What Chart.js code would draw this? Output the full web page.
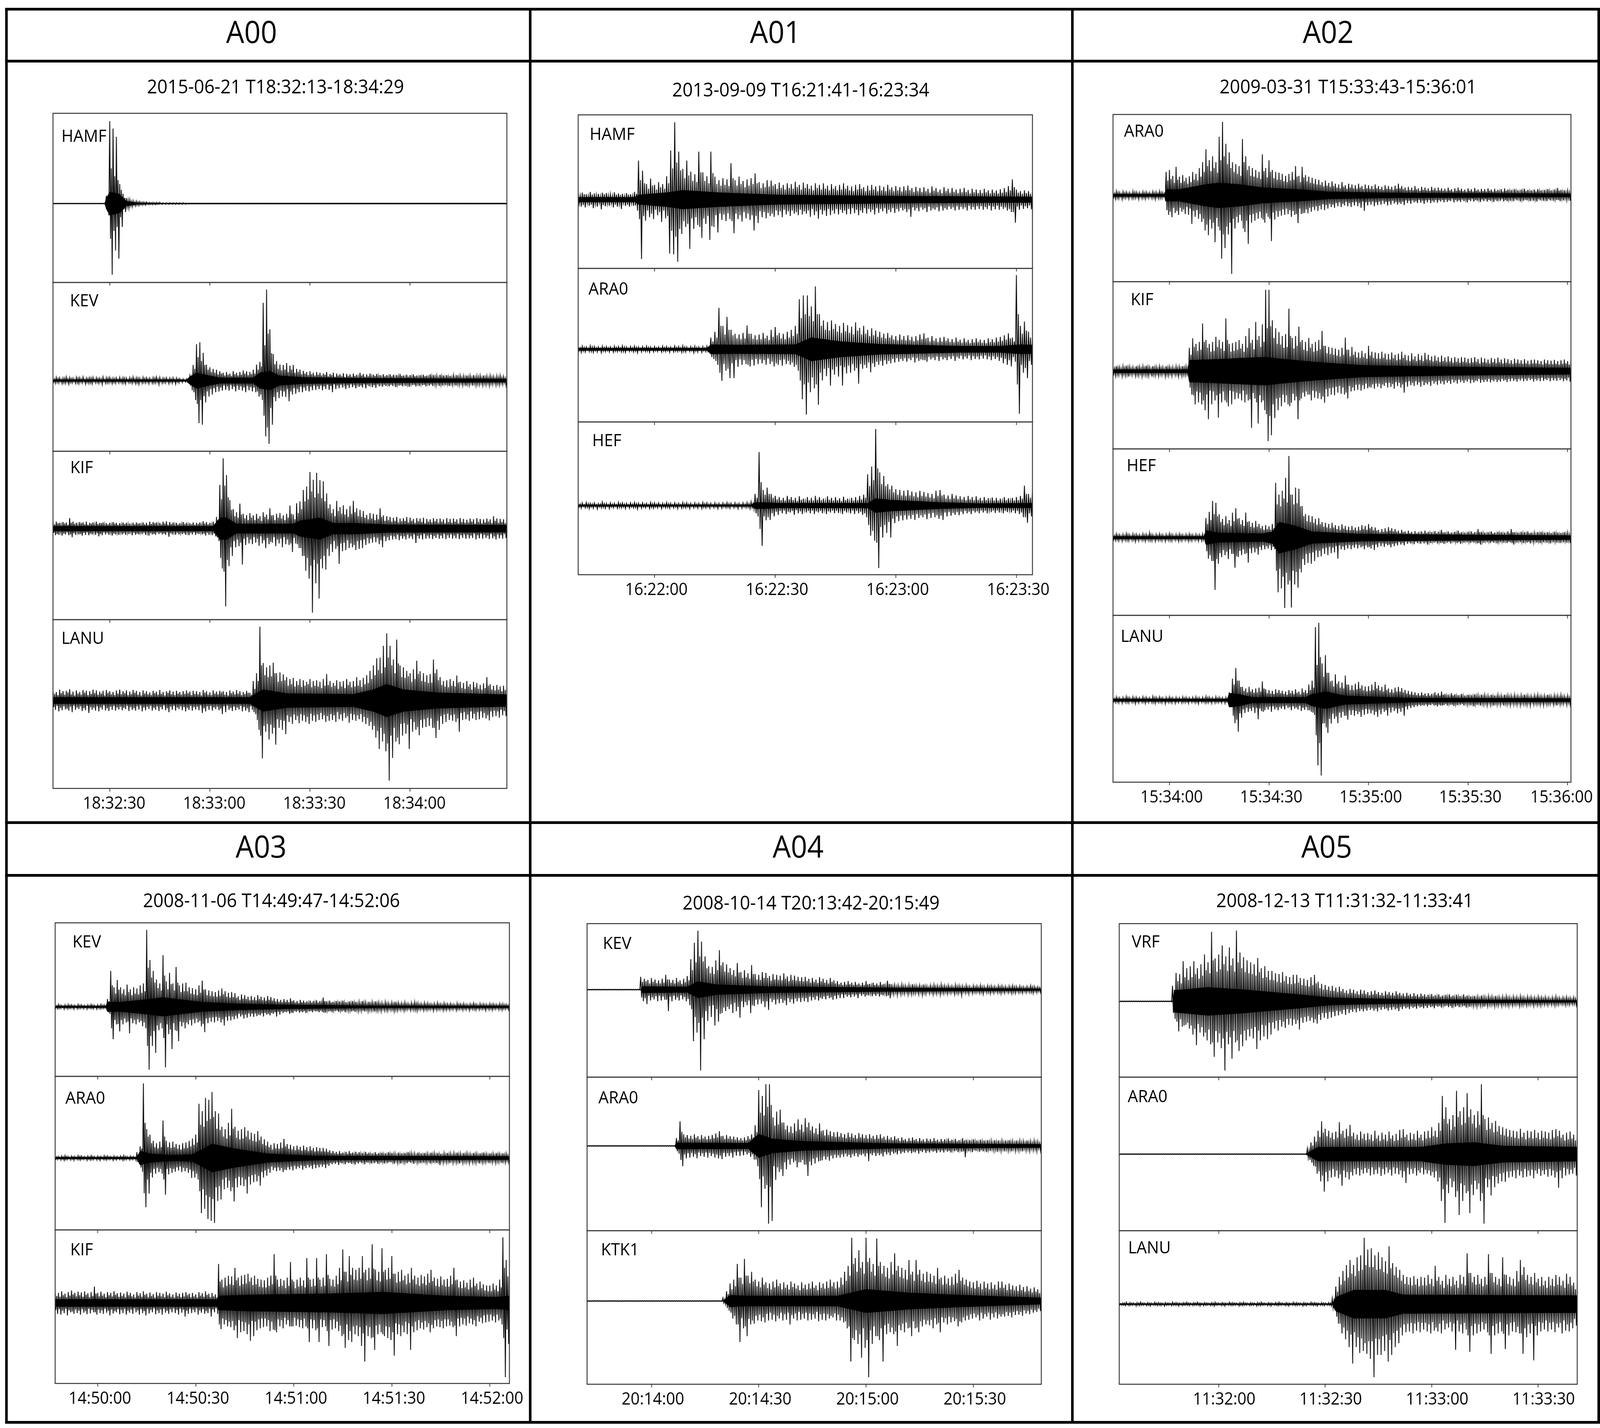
<!DOCTYPE html>
<html>
<head>
<meta charset="utf-8">
<title>Seismograms A00-A05</title>
<script src="https://cdn.jsdelivr.net/npm/chart.js@4"></script>
<style>
  html, body { margin: 0; padding: 0; background: #fff; overflow: hidden; }
  #page { position: relative; width: 4350px; height: 3655px; overflow: hidden; transform-origin: 0 0; font-family: "Open Sans", sans-serif; color: #000; }
  #page canvas { position: absolute; }
  .rule { position: absolute; background: #000; }
  .txt { position: absolute; line-height: 1; white-space: nowrap; }
  .title { font-size: 78px; transform: translate(-50%, -50%); }
  .sub { font-size: 49px; transform: translate(-50%, -50%); }
  .station { font-size: 44px; transform: translateY(-50%); }
</style>
</head>
<body>
<div id="page"></div>
<script>
// amplitudes read once per second off each trace: peak up, peak down, and the swing in between
const a00_hamf_up = [
1,1,1,1,1,1,1,1,1,1,1,1,1,1,1,1,20,211,192,171,
50,25,14,10,7,6,5,4,4,3,3,3,3,2,2,2,2,2,2,2,
1,1,1,1,1,1,1,1,1,1,1,1,1,1,1,1,1,1,1,1,
1,1,1,1,1,1,1,1,1,1,1,1,1,1,1,1,1,1,1,1,
1,1,1,1,1,1,1,1,1,1,1,1,1,1,1,1,1,1,1,1,
1,1,1,1,1,1,1,1,1,1,1,1,1,1,1,1,1,1,1,1,
1,1,1,1,1,1,1,1,1,1,1,1,1,1,1,1,1];
const a00_hamf_dn = [
1,1,1,1,1,1,1,1,1,1,1,1,1,1,1,1,30,182,120,141,
60,22,12,8,6,5,4,4,3,3,3,2,2,2,2,2,2,2,2,2,
1,1,1,1,1,1,1,1,1,1,1,1,1,1,1,1,1,1,1,1,
1,1,1,1,1,1,1,1,1,1,1,1,1,1,1,1,1,1,1,1,
1,1,1,1,1,1,1,1,1,1,1,1,1,1,1,1,1,1,1,1,
1,1,1,1,1,1,1,1,1,1,1,1,1,1,1,1,1,1,1,1,
1,1,1,1,1,1,1,1,1,1,1,1,1,1,1,1,1];
const a00_hamf_mid = [
1,1,1,1,1,1,1,1,1,1,1,1,1,1,1,1,15,90,70,60,
35,15,9,6,4,4,3,3,2,2,2,2,1,1,1,1,1,1,1,1,
1,1,1,1,1,1,1,1,1,1,1,1,1,1,1,1,1,1,1,1,
1,1,1,1,1,1,1,1,1,1,1,1,1,1,1,1,1,1,1,1,
1,1,1,1,1,1,1,1,1,1,1,1,1,1,1,1,1,1,1,1,
1,1,1,1,1,1,1,1,1,1,1,1,1,1,1,1,1,1,1,1,
1,1,1,1,1,1,1,1,1,1,1,1,1,1,1,1,1];
const a00_kev_up = [
6,8,7,6,9,7,6,8,7,9,6,7,8,7,6,9,7,8,6,7,
8,7,6,7,9,7,6,8,7,6,7,9,8,6,7,6,7,6,5,4,
4,12,40,93,98,71,41,34,30,28,24,20,22,18,24,20,22,26,24,22,
28,41,48,199,233,131,68,50,41,40,45,38,40,30,28,25,22,24,20,22,
20,18,22,17,20,18,16,19,17,16,18,15,20,17,16,18,15,17,14,16,
14,16,15,14,17,13,15,14,16,13,14,15,13,16,14,12,15,13,14,12,
13,14,12,11,13,12,14,11,12,13,11,12,10,11,12,10,11];
const a00_kev_dn = [
7,6,8,7,9,6,7,8,6,9,7,8,6,7,10,7,6,8,7,6,
7,8,6,7,8,9,7,6,8,7,6,10,7,6,8,7,9,6,5,4,
4,25,50,109,113,56,41,36,30,28,26,24,26,22,28,24,26,30,25,28,
30,41,50,143,162,113,53,45,41,42,53,36,34,30,30,26,28,25,24,22,
25,22,24,30,22,20,18,22,19,17,20,16,18,20,15,17,19,15,16,14,
15,14,17,13,15,14,16,12,15,14,12,15,13,14,12,14,13,12,14,11,
13,11,12,14,11,13,12,10,12,11,13,10,12,11,10,12,10];
const a00_kev_mid = [
4,5,3,6,4,5,3,6,4,3,5,6,3,5,4,3,6,4,5,3,
4,6,3,5,4,6,3,5,4,3,6,4,3,5,3,4,3,4,2,2,
3,8,30,60,50,40,28,22,20,16,18,13,15,12,16,13,15,18,14,17,
18,28,36,90,120,70,42,30,26,28,22,28,20,22,16,18,14,16,13,15,
13,15,11,14,10,13,11,9,12,10,12,9,13,10,11,9,12,10,8,11,
9,11,8,10,12,8,10,9,11,8,9,11,8,10,9,7,10,8,9,8,
8,9,7,8,9,7,8,9,7,8,7,8,6,8,7,6,7];
const a00_kif_up = [
16,18,15,17,16,27,18,15,17,16,18,15,16,18,15,16,14,15,17,15,
14,16,15,13,15,16,14,16,15,18,17,16,15,18,19,17,16,15,14,17,
15,14,16,15,16,19,17,15,18,30,112,180,137,73,50,42,64,38,35,40,
34,38,32,42,36,52,35,38,40,34,38,59,36,65,70,99,108,145,125,143,
124,121,90,62,50,71,55,60,50,58,71,52,48,45,35,40,38,36,52,34,
32,30,28,30,26,27,30,28,25,27,26,28,25,24,27,25,26,24,27,25,
26,24,27,25,23,26,24,27,25,24,26,24,32,26,25,24,25];
const a00_kif_dn = [
17,16,18,15,17,22,16,15,18,16,17,15,16,20,17,15,16,18,15,16,
15,16,14,17,16,15,14,16,18,15,16,14,15,16,21,15,16,15,14,16,
17,15,16,14,15,18,16,17,20,32,102,199,96,70,48,45,92,42,38,40,
36,44,38,50,40,36,45,38,48,40,42,60,38,50,70,108,128,215,140,179,
102,105,70,60,52,90,58,55,50,48,55,52,50,42,38,36,35,40,48,32,
30,28,27,30,26,28,25,27,37,26,28,26,25,27,24,26,25,27,24,26,
25,27,24,26,25,24,28,25,26,24,27,25,28,25,26,24,25];
const a00_kif_mid = [
11,14,9,13,10,15,12,9,14,11,10,13,9,12,14,10,11,9,13,10,
9,12,10,8,11,13,9,11,10,12,14,10,11,13,10,12,9,11,10,12,
9,11,10,12,9,13,11,9,13,22,75,110,80,48,32,28,36,26,22,28,
22,26,20,30,24,34,22,28,26,22,28,38,24,40,50,70,75,95,80,90,
78,70,52,40,32,45,38,36,30,38,42,32,30,28,24,26,22,24,30,20,
22,18,20,16,19,20,16,20,15,19,17,14,18,16,19,15,18,14,17,15,
18,14,17,15,16,18,13,17,14,16,18,14,20,15,17,14,16];
const a00_lanu_up = [
26,22,28,24,25,29,23,26,22,27,25,24,28,26,23,25,27,24,22,26,
28,24,26,23,27,25,22,26,24,21,25,23,27,22,24,26,23,25,22,24,
26,23,25,24,22,27,24,21,26,23,25,24,22,26,23,27,24,22,25,20,
50,70,189,96,85,90,97,70,72,67,60,55,58,50,55,52,48,55,50,52,
48,55,68,50,45,52,48,50,55,48,50,60,52,58,65,76,90,108,110,140,
172,140,105,156,90,85,76,70,80,102,75,70,65,68,105,80,60,50,52,55,
50,64,48,45,50,42,48,45,40,44,60,42,38,40,36,38,35];
const a00_lanu_dn = [
24,28,25,23,26,30,24,22,27,25,32,24,26,28,23,25,27,24,26,23,
25,22,27,24,26,23,28,25,22,26,24,27,23,25,30,24,26,22,25,28,
24,26,23,25,32,28,24,26,22,25,35,30,24,27,25,23,28,26,30,24,
35,75,148,80,100,85,113,70,75,86,55,60,50,58,52,55,60,52,55,50,
48,55,52,50,55,48,52,45,57,50,52,48,55,60,65,75,95,124,105,130,
205,147,105,112,90,85,124,80,75,89,70,68,65,70,96,75,60,55,50,52,
55,80,50,48,52,46,50,48,44,46,51,42,40,44,38,40,38];
const a00_lanu_mid = [
17,14,19,15,21,16,13,18,15,20,14,17,19,15,18,13,20,16,14,18,
16,19,14,17,20,15,13,18,16,14,19,15,17,13,20,16,14,18,15,17,
19,14,17,16,13,20,15,14,18,16,21,15,13,19,16,18,14,17,20,15,
30,50,90,65,60,62,70,48,50,52,38,42,36,40,35,38,42,34,38,36,
32,38,40,35,38,30,36,32,40,34,36,38,35,42,45,55,65,78,70,85,
110,90,70,95,60,58,62,48,55,68,50,48,45,46,70,52,40,36,34,38,
36,46,32,30,36,28,34,30,28,32,38,28,26,28,24,27,25];

const a01_hamf_up = [
16,18,14,20,16,15,18,17,14,19,16,15,17,14,20,100,74,40,54,38,
45,40,60,126,198,123,79,100,72,65,123,70,60,123,59,50,55,52,93,50,
59,48,52,55,67,45,42,50,49,40,44,38,42,40,46,38,44,40,36,42,
38,42,36,40,35,38,42,36,34,38,40,32,36,38,34,36,33,38,32,35,
32,34,36,30,33,30,32,28,34,30,26,32,28,30,26,28,30,25,28,26,
25,28,24,26,24,27,30,35,52,26,22,24,22,20];
const a01_hamf_dn = [
18,20,16,22,18,25,17,16,20,18,24,16,18,16,28,152,54,45,50,40,
57,48,138,140,159,88,70,126,75,65,98,62,103,70,84,52,55,50,86,50,
56,48,52,79,60,45,48,42,44,40,45,38,42,36,40,38,36,44,40,49,
38,42,40,36,38,34,38,37,35,40,34,36,32,38,34,30,36,32,34,30,
28,32,44,28,30,26,32,28,26,30,28,26,24,28,26,24,28,25,26,24,
26,24,28,25,26,24,28,32,59,26,24,22,25,24];
const a01_hamf_mid = [
11,14,10,13,12,9,14,11,10,13,12,9,13,10,15,50,42,28,36,26,
32,28,42,80,95,75,55,62,48,45,70,48,42,68,40,36,38,35,55,36,
40,32,36,40,42,30,32,34,36,28,30,26,30,28,32,26,30,28,24,30,
26,28,24,28,24,26,28,24,22,26,28,22,24,26,22,24,22,26,22,24,
21,24,25,20,22,20,22,18,23,20,17,22,18,20,17,19,20,16,19,17,
17,19,16,18,16,18,20,24,32,18,15,17,15,14];
const a01_ara0_up = [
7,8,6,9,7,6,8,7,6,8,7,9,6,7,8,6,7,8,6,7,
6,8,7,6,8,7,9,6,7,8,6,7,8,30,45,106,60,83,50,40,
38,42,61,40,36,38,42,35,50,57,42,40,45,50,60,128,138,138,110,161,
90,74,70,74,65,60,68,62,58,69,55,60,50,54,48,45,40,42,36,34,
38,34,36,32,34,38,41,30,34,28,30,32,28,26,30,25,28,24,26,28,
25,24,28,26,30,32,36,41,30,190,60,71,45,30];
const a01_ara0_dn = [
8,7,6,8,7,9,6,7,8,6,7,8,6,7,9,7,6,8,7,6,
7,6,8,7,6,8,7,6,9,7,8,6,7,25,40,81,55,74,74,45,
40,38,44,42,38,36,40,38,44,40,42,38,40,45,55,128,167,110,100,142,
80,69,93,65,70,93,62,60,55,88,50,48,59,45,40,42,38,36,34,32,
30,32,28,34,30,28,32,26,28,30,26,28,25,30,24,26,24,28,25,26,
24,26,28,25,30,36,40,44,32,165,60,74,40,32];
const a01_ara0_mid = [
4,5,3,6,4,3,5,4,3,5,4,6,3,4,5,3,4,5,3,4,
3,5,4,3,5,4,6,3,4,5,3,4,5,20,30,60,38,50,36,28,
26,28,40,27,25,26,28,24,32,36,28,26,30,34,40,80,90,85,72,90,
60,50,48,52,45,42,46,42,38,48,38,40,34,36,32,30,28,30,25,23,
25,23,24,21,23,26,28,20,22,19,20,22,19,18,20,17,19,16,18,19,
17,16,19,18,20,22,25,28,20,90,40,48,30,20];
const a01_hef_up = [
6,7,8,6,7,5,9,6,7,6,8,7,6,7,8,6,7,6,8,7,
7,6,8,6,7,6,8,7,6,7,6,8,7,6,7,6,7,8,6,7,
6,7,8,10,30,137,40,46,30,25,22,20,25,22,20,24,18,22,20,25,
22,18,24,20,22,19,23,18,20,22,25,28,80,100,196,85,76,55,51,42,
40,38,40,36,34,38,35,32,30,38,40,28,26,30,26,24,22,25,22,24,
20,22,19,21,20,18,22,19,20,22,25,51,30,40];
const a01_hef_dn = [
7,6,8,7,9,6,7,8,6,7,6,8,7,6,9,7,6,8,7,6,
8,6,7,6,8,7,6,8,6,7,8,6,7,6,8,7,6,7,6,8,
7,6,8,10,28,103,38,37,28,24,20,22,18,24,20,22,18,20,22,18,
20,22,18,20,19,22,18,20,22,20,24,30,77,90,160,82,70,82,45,40,
38,36,34,37,32,30,35,32,30,34,37,28,26,24,25,22,20,22,18,20,
18,20,17,19,18,20,17,18,20,22,30,44,28,36];
const a01_hef_mid = [
4,3,5,4,3,4,5,3,4,3,5,4,3,4,5,3,4,3,5,4,
3,4,5,3,4,3,5,4,3,4,3,5,4,3,4,3,4,5,3,4,
3,4,5,6,20,60,28,30,20,16,14,13,16,14,12,15,11,14,13,15,
14,11,15,13,14,12,14,11,13,14,16,20,50,65,95,55,50,42,34,28,
26,25,26,24,22,25,23,21,19,25,26,18,17,19,17,16,14,16,14,15,
13,14,12,13,13,11,14,12,13,14,18,30,20,24];

const a02_ara0_up = [
8,10,7,9,8,7,10,8,7,9,8,7,9,8,10,7,60,65,50,73,
48,52,45,49,60,55,70,85,118,90,100,85,150,188,132,110,85,80,75,144,
100,75,70,65,60,105,70,90,65,60,58,55,50,55,60,75,50,73,52,48,
45,42,40,34,38,32,36,30,28,34,26,30,28,26,30,24,28,26,24,28,
24,22,26,24,22,25,30,24,20,22,20,24,18,22,20,18,22,19,20,18,
17,20,16,18,20,17,15,18,16,19,15,17,16,18,15,17,14,16,18,15,
14,16,13,15,17,14,13,15,16,13,14,16,13,15,19,14,13,12,13];
const a02_ara0_dn = [
9,8,10,7,9,8,7,10,8,9,7,8,10,8,7,9,50,56,45,50,
42,48,50,73,55,60,68,90,102,85,120,80,162,135,100,201,85,70,65,94,
124,70,65,60,58,70,55,117,62,55,52,50,48,55,50,71,48,45,46,42,
38,40,36,38,34,30,32,28,30,26,28,30,26,28,32,40,26,24,28,25,
24,22,26,24,21,24,22,25,20,22,18,20,19,22,18,20,18,19,16,18,
17,15,18,16,17,15,18,15,16,14,17,15,16,14,17,15,14,16,15,14,
15,13,16,14,13,15,14,16,13,14,15,13,14,12,15,13,12,14,12];
const a02_ara0_mid = [
5,7,4,6,5,4,7,5,4,6,5,4,6,5,7,4,38,42,32,40,
32,36,30,34,40,38,48,60,75,62,70,58,90,100,80,70,60,55,50,85,
65,50,48,45,42,62,46,60,44,40,40,36,34,38,40,48,34,46,36,32,
30,28,27,23,25,22,24,20,18,22,17,20,18,17,20,16,18,17,16,18,
16,14,17,16,14,17,18,16,13,14,13,15,12,14,13,12,14,12,13,12,
11,13,10,12,13,11,10,12,10,12,10,11,10,12,10,11,9,10,12,10,
9,10,8,10,11,9,8,10,10,8,9,10,8,10,12,9,8,8,8];
const a02_kif_up = [
11,13,10,12,14,11,10,13,11,12,14,10,13,11,12,10,13,11,10,12,
11,13,12,60,84,70,75,122,80,70,75,88,80,75,135,70,72,75,80,70,
90,110,80,126,90,120,208,208,130,110,100,90,95,160,85,90,114,80,75,85,
70,75,80,103,65,62,60,58,55,60,86,55,62,50,48,52,46,65,50,48,
46,50,45,44,48,42,45,50,42,40,46,38,44,40,47,42,38,40,36,40,
35,38,34,36,33,36,35,32,34,36,31,35,33,30,34,32,35,30,33,31,
28,32,30,28,31,27,29,30,28,26,30,28,27,29,26,28,30,26,28];
const a02_kif_dn = [
12,10,13,11,14,10,12,11,13,10,12,14,11,12,10,13,11,12,10,13,
12,10,14,60,85,80,85,100,123,85,75,119,80,75,90,85,72,70,75,80,
75,145,70,134,80,100,179,164,120,100,90,80,85,81,75,123,70,65,60,75,
68,70,72,81,65,60,62,55,58,60,70,52,50,48,50,46,44,42,45,40,
44,38,42,40,45,38,42,55,40,36,38,35,40,36,34,38,32,35,32,34,
30,33,29,32,28,30,27,31,29,26,30,28,27,29,26,28,27,25,28,26,
25,27,24,26,25,23,27,24,26,25,23,26,24,25,23,26,24,27,25];
const a02_kif_mid = [
7,9,6,8,9,7,6,9,7,8,10,6,9,7,8,6,9,7,6,8,
7,9,8,42,62,52,55,75,60,50,52,62,58,52,80,50,52,55,58,50,
60,72,56,80,62,75,110,115,85,70,68,60,62,90,58,65,75,55,52,60,
50,52,56,65,46,44,42,40,38,42,55,38,42,35,34,36,32,40,34,32,
32,34,30,30,33,28,30,34,28,26,30,26,29,26,30,28,25,27,24,26,
24,25,22,24,22,24,23,21,23,24,20,23,22,20,23,21,23,20,22,20,
19,21,20,19,20,18,20,20,19,17,20,18,18,19,17,19,20,17,19];
const a02_hef_up = [
8,9,7,8,10,7,9,8,7,9,8,12,7,8,9,7,8,10,7,8,
9,7,8,9,7,8,7,9,50,66,94,89,60,48,55,45,64,75,50,45,
64,42,38,43,35,30,32,29,35,140,110,120,153,209,110,128,125,81,60,57,
55,48,50,40,38,35,38,32,30,34,30,28,30,26,28,32,30,35,28,26,
20,22,24,27,24,22,18,20,16,18,15,17,14,16,18,15,14,17,15,20,
14,16,13,15,18,14,13,15,16,14,22,15,13,14,16,13,15,14,13,16,
22,14,13,15,14,16,13,12,14,15,13,14,12,15,13,12,14,12,13];
const a02_hef_dn = [
7,8,9,7,8,7,10,8,7,9,7,8,9,7,8,9,7,8,7,9,
8,7,9,8,7,9,8,7,54,60,134,67,50,45,55,42,77,50,45,42,
64,40,38,44,32,30,28,32,30,140,130,180,120,179,120,128,89,70,65,67,
60,50,48,42,45,40,38,54,30,32,28,30,26,28,25,30,25,28,32,25,
22,24,20,25,22,20,18,20,16,15,17,14,16,15,18,14,13,15,14,16,
13,15,12,14,16,13,12,14,13,15,18,13,12,14,13,15,12,13,14,12,
18,13,12,14,13,15,12,13,14,12,13,15,12,13,14,12,13,14,12];
const a02_hef_mid = [
5,6,4,5,7,4,6,5,4,6,5,7,4,5,6,4,5,7,4,5,
6,4,5,6,4,5,4,6,35,45,60,55,40,32,36,30,42,48,34,30,
40,28,26,28,24,20,22,20,24,85,80,100,90,110,85,88,80,55,42,40,
38,33,34,28,26,24,26,22,20,23,20,19,20,18,19,22,20,24,19,18,
14,15,16,18,16,15,12,14,11,12,10,11,9,11,12,10,9,11,10,13,
9,11,8,10,12,9,8,10,11,9,14,10,8,9,11,8,10,9,8,11,
14,9,8,10,9,11,8,8,9,10,8,9,8,10,8,8,9,8,8];
const a02_lanu_up = [
7,8,6,7,9,6,8,7,6,8,7,6,9,7,8,6,7,8,6,7,
6,8,7,6,7,8,6,7,9,7,6,8,7,6,7,20,55,82,50,34,
30,34,28,30,32,48,28,26,24,28,26,24,22,26,24,28,22,30,26,40,
50,187,198,94,115,70,50,66,48,45,63,40,38,42,47,38,35,36,40,47,
38,34,40,30,28,32,34,31,26,24,22,20,18,20,17,18,16,20,18,22,
16,14,18,15,13,16,12,14,13,15,12,14,13,11,14,12,13,11,14,12,
11,13,10,12,14,11,10,12,13,10,11,14,10,12,11,13,10,11,12];
const a02_lanu_dn = [
6,7,8,6,7,6,9,7,6,8,6,7,8,6,7,9,6,7,8,6,
7,6,8,6,7,9,6,7,6,8,7,6,7,8,6,18,59,81,45,33,
30,28,33,49,28,26,24,30,24,26,22,24,20,26,22,24,28,25,26,30,
38,167,193,59,84,60,48,59,45,40,50,38,40,36,43,38,35,34,38,43,
36,30,40,32,28,34,30,40,24,20,18,16,15,14,16,13,14,16,14,13,
14,12,15,13,12,14,11,13,16,12,14,11,13,12,14,11,12,14,11,13,
11,12,13,10,12,14,11,10,12,13,11,10,12,14,11,10,12,11,10];
const a02_lanu_mid = [
4,5,3,4,6,3,5,4,3,5,4,3,6,4,5,3,4,5,3,4,
3,5,4,3,4,5,3,4,6,4,3,5,4,3,4,14,40,50,34,24,
20,22,19,20,22,30,18,17,16,19,18,16,14,18,16,19,15,20,18,26,
32,90,110,60,70,48,35,42,32,30,40,26,26,28,30,25,23,24,26,30,
25,22,26,20,19,22,22,20,17,15,14,13,12,13,11,12,10,13,12,14,
10,9,12,10,8,10,8,9,9,10,8,9,8,7,9,8,8,7,9,8,
7,8,7,8,9,7,6,8,8,7,7,9,6,8,7,8,6,7,8];

const a03_kev_up = [
5,6,4,5,6,5,4,6,5,4,5,6,4,5,6,5,20,92,50,69,
50,45,57,45,50,47,55,60,197,120,92,70,60,132,65,87,60,102,55,60,
62,50,48,45,55,67,45,42,40,38,42,47,40,36,38,35,27,32,30,26,
28,25,30,26,24,28,25,22,20,18,20,18,22,17,15,18,16,14,16,15,
17,15,24,14,16,13,15,14,16,12,14,15,13,12,15,11,13,12,14,11,
10,12,9,11,13,10,9,11,8,10,12,9,8,10,9,7,8,10,7,9,
7,8,6,9,7,8,6,7,9,6,8,7,6,8,7,6,8,7,6,9];
const a03_kev_dn = [
5,4,6,5,4,6,5,4,5,6,4,5,6,5,4,5,18,83,45,63,
45,40,68,42,45,40,50,55,161,100,118,60,55,155,70,108,60,88,50,55,
45,48,42,40,50,65,42,38,40,36,40,48,36,35,32,30,25,30,28,25,
26,24,22,25,20,22,18,25,20,16,14,18,16,13,15,14,16,12,14,12,
14,13,15,12,14,11,13,12,14,10,12,13,11,10,12,11,9,12,10,11,
9,10,8,11,9,8,10,7,9,8,10,7,9,8,7,10,8,7,9,8,
8,7,9,6,8,7,9,6,8,7,6,9,7,8,6,7,8,6,7,8];
const a03_kev_mid = [
3,4,2,3,4,3,2,4,3,2,3,4,2,3,4,3,14,55,34,44,
34,30,38,30,34,32,36,40,100,75,62,48,42,80,45,58,42,62,38,40,
40,34,32,30,36,44,30,28,27,26,28,32,26,24,25,23,18,21,20,17,
18,17,20,17,16,18,16,14,13,12,13,12,15,11,10,12,11,9,11,10,
11,10,15,9,11,9,10,9,10,8,9,10,8,8,10,7,8,8,9,7,
6,8,6,7,8,6,6,7,5,6,8,6,5,6,6,5,5,6,5,6,
5,5,4,6,5,5,4,5,6,4,5,5,4,5,5,4,5,5,4,6];
const a03_ara0_up = [
5,4,5,6,4,5,4,6,5,4,5,6,4,5,4,6,5,4,5,4,
5,6,4,5,4,15,30,191,74,60,44,38,42,96,44,40,42,36,34,38,
40,44,50,60,139,120,154,149,169,120,114,80,74,90,126,80,70,74,79,70,
65,62,69,55,48,42,34,38,36,40,49,36,34,30,32,29,32,28,30,26,
28,26,26,24,20,18,16,18,14,16,18,14,16,15,13,16,14,12,15,13,
14,12,15,13,11,14,12,13,15,12,11,14,12,13,11,14,12,13,11,12,
13,11,12,14,11,13,12,10,13,11,12,14,10,12,11,13,10,12,11,10];
const a03_ara0_dn = [
4,5,6,4,5,6,4,5,4,6,5,4,5,6,4,5,4,6,5,4,
6,4,5,4,6,15,35,126,91,50,40,36,40,94,42,38,35,32,36,34,
38,51,50,55,141,130,156,161,166,110,106,80,76,85,111,75,70,72,91,68,
62,60,71,50,45,38,31,34,32,36,31,30,32,28,26,30,26,24,28,26,
24,22,26,20,16,15,18,14,16,13,15,17,14,13,16,12,14,13,15,12,
14,13,11,15,12,14,11,13,12,15,11,13,12,11,14,12,13,18,12,11,
13,12,11,14,12,10,13,11,12,14,11,10,13,11,12,10,13,11,10,12];
const a03_ara0_mid = [
3,2,3,4,2,3,2,4,3,2,3,4,2,3,2,4,3,2,3,2,
3,4,2,3,2,10,24,90,55,38,28,25,28,55,28,26,28,24,22,25,
26,30,34,40,85,80,95,100,105,75,72,55,50,58,75,52,48,50,55,48,
44,42,46,36,32,28,22,25,24,26,30,24,22,20,22,19,21,18,20,17,
18,17,17,16,13,12,11,12,9,11,12,9,11,10,9,11,9,8,10,9,
9,8,10,9,7,9,8,9,10,8,7,9,8,9,7,9,8,9,7,8,
9,7,8,9,7,9,8,7,9,7,8,9,7,8,7,9,7,8,7,7];
const a03_kif_up = [
28,26,30,24,28,32,26,29,27,30,25,28,42,26,29,24,28,26,30,25,
27,24,29,26,22,28,25,30,24,27,23,28,26,24,29,25,22,27,24,26,
28,24,26,22,28,25,30,24,26,22,100,60,65,70,68,90,65,70,72,75,
65,70,62,60,58,65,70,125,60,62,58,65,105,55,60,65,58,115,60,62,
115,60,65,125,62,60,70,90,137,80,120,90,85,90,120,85,90,150,85,80,
140,85,90,120,75,80,85,70,75,90,70,65,72,68,75,85,65,62,68,60,
62,70,90,60,55,58,52,60,65,50,55,48,45,45,50,45,60,168,110,75];
const a03_kif_dn = [
28,30,26,32,24,28,26,30,25,29,27,24,30,26,28,25,32,27,24,29,
26,30,25,28,24,30,26,32,27,24,29,26,30,25,28,24,26,30,25,35,
28,26,24,30,25,28,26,35,24,28,67,55,60,62,70,90,75,72,80,97,
85,70,65,62,60,72,68,75,60,65,55,60,60,58,62,65,60,100,65,70,
100,62,60,110,68,65,72,85,115,95,100,80,85,110,150,85,90,120,80,75,
85,90,95,135,80,85,75,80,120,75,70,65,68,62,75,65,60,62,65,60,
58,62,85,60,55,58,52,55,60,48,52,50,48,45,50,45,55,190,105,70];
const a03_kif_mid = [
18,16,20,15,19,22,17,20,16,21,15,18,24,17,19,15,20,17,21,16,
18,15,20,17,14,19,16,21,15,18,14,19,17,15,20,16,14,18,15,17,
20,15,17,14,19,16,21,15,17,14,55,40,44,48,46,58,44,48,50,55,
46,48,42,40,40,44,48,70,42,44,38,44,60,38,42,44,40,65,42,44,
65,42,44,72,44,42,48,58,80,55,72,60,58,62,78,58,62,88,58,55,
80,60,62,75,52,55,58,48,52,60,48,44,50,46,52,56,44,42,46,42,
42,48,58,40,38,40,35,40,44,34,38,32,30,30,34,30,40,90,68,50];

const a04_kev_up = [
1,1,1,1,1,1,1,1,1,1,1,1,1,1,1,33,28,25,30,26,
24,28,38,26,25,30,24,28,35,78,120,151,123,85,60,58,75,101,70,65,
55,50,68,45,50,42,63,40,38,45,43,35,40,38,36,42,34,38,36,33,
32,33,28,30,26,32,28,25,30,24,22,18,20,22,18,20,16,18,22,15,
18,16,20,15,23,14,12,11,13,10,12,14,10,11,13,9,11,12,10,13,
10,11,9,12,10,9,11,8,10,9,11,8,10,9,8,10,9,8,9,10,
8,9,7,8,10,8,7,8];
const a04_kev_dn = [
1,1,1,1,1,1,1,1,1,1,1,1,1,1,1,30,37,28,25,30,
28,26,55,30,26,28,25,30,40,132,110,207,127,80,70,92,82,60,55,50,
60,55,72,45,40,60,42,38,36,45,52,32,38,35,34,40,32,36,30,32,
30,32,28,26,28,24,25,22,26,24,22,22,18,20,18,22,16,18,15,17,
16,18,15,17,22,12,14,12,11,13,12,10,12,14,11,10,12,11,13,10,
11,9,12,10,15,9,11,10,8,9,11,8,10,9,8,10,9,8,10,9,
8,9,8,7,9,8,7,8];
const a04_kev_mid = [
1,1,1,1,1,1,1,1,1,1,1,1,1,1,1,20,22,16,20,17,
16,18,26,18,16,20,15,19,24,50,70,85,72,55,42,40,50,62,46,44,
38,34,44,30,32,28,40,26,25,30,30,23,26,25,24,28,22,25,23,22,
21,22,18,20,17,21,18,16,20,16,14,12,13,14,12,13,11,12,14,10,
12,11,13,10,15,9,8,7,9,7,8,9,7,7,9,6,7,8,7,8,
7,7,6,8,7,6,7,5,7,6,7,5,7,6,5,7,6,5,6,7,
5,6,5,5,7,5,5,5];
const a04_ara0_up = [
1,1,1,1,1,1,1,1,1,1,1,1,1,1,1,1,1,1,1,1,
1,1,1,1,1,20,63,30,28,26,30,25,28,24,26,28,32,38,26,28,
25,24,22,20,22,25,30,53,143,128,158,158,73,88,93,60,52,50,58,68,
55,71,60,50,45,58,40,42,38,35,36,33,30,34,32,28,33,30,28,30,
26,28,30,24,26,22,25,20,22,18,20,22,18,20,17,19,18,20,16,18,
17,19,16,18,15,20,16,15,17,14,16,14,15,13,15,14,13,14,15,12,
14,13,12,14,12,13,11,12];
const a04_ara0_dn = [
1,1,1,1,1,1,1,1,1,1,1,1,1,1,1,1,1,1,1,1,
1,1,1,1,1,20,52,32,30,28,32,26,28,30,26,30,32,34,28,26,
30,25,26,24,22,28,35,52,157,110,199,192,87,67,77,60,48,42,55,42,
48,77,50,45,40,37,35,38,32,30,30,28,27,30,26,28,24,27,39,24,
26,24,27,22,24,20,22,20,18,17,19,17,20,16,18,17,15,18,16,17,
15,17,14,16,15,29,14,16,13,15,14,16,13,12,15,13,14,12,14,13,
12,14,12,13,11,14,12,12];
const a04_ara0_mid = [
1,1,1,1,1,1,1,1,1,1,1,1,1,1,1,1,1,1,1,1,
1,1,1,1,1,14,36,22,19,18,21,17,19,17,18,20,22,25,18,19,
18,16,15,14,15,18,22,35,85,78,100,105,52,55,60,42,35,33,38,42,
36,48,40,33,30,38,27,28,25,23,24,22,20,23,21,19,22,20,19,20,
18,19,20,16,17,15,17,13,15,12,13,15,12,13,11,13,12,13,11,12,
11,13,10,12,10,14,10,10,11,9,11,9,10,9,10,9,9,9,10,8,
9,9,8,9,8,9,7,8];
const a04_ktk1_up = [
1,1,1,1,1,1,1,1,1,1,1,1,1,1,1,1,1,1,1,1,
1,1,1,1,1,1,1,1,1,1,1,1,1,1,1,1,1,1,8,25,
45,55,95,60,108,65,75,55,50,60,48,45,50,55,45,48,42,50,45,40,
48,42,45,50,40,48,45,50,55,48,50,60,75,90,162,110,130,100,162,110,
95,160,100,90,85,100,122,90,85,80,105,75,105,80,70,75,70,65,85,60,
65,58,62,70,80,60,55,50,48,52,45,50,45,48,42,50,50,42,45,40,
38,42,36,38,32,35,30,28];
const a04_ktk1_dn = [
1,1,1,1,1,1,1,1,1,1,1,1,1,1,1,1,1,1,1,1,
1,1,1,1,1,1,1,1,1,1,1,1,1,1,1,1,1,1,8,25,
45,60,105,70,90,60,58,50,52,55,50,48,52,45,50,48,60,45,50,48,
45,50,48,45,52,48,50,45,42,50,50,55,70,155,100,110,145,120,195,110,
90,100,155,85,80,85,115,75,80,70,90,70,80,65,60,62,70,60,80,55,
60,55,52,65,55,50,48,45,42,50,45,40,48,42,45,40,40,38,42,36,
35,38,32,34,30,28,26,25];
const a04_ktk1_mid = [
1,1,1,1,1,1,1,1,1,1,1,1,1,1,1,1,1,1,1,1,
1,1,1,1,1,1,1,1,1,1,1,1,1,1,1,1,1,1,5,18,
30,38,60,44,65,46,50,38,35,42,33,30,35,38,30,34,30,36,32,28,
33,30,32,34,28,34,32,34,38,32,35,42,52,65,95,75,85,70,100,75,
65,90,70,62,58,68,78,62,58,55,68,52,68,52,48,50,48,44,56,42,
44,40,42,46,52,42,38,34,32,36,30,34,30,32,29,34,34,28,30,28,
26,28,24,26,22,24,20,18];

const a05_vrf_up = [
1,1,1,1,1,1,1,1,1,1,1,1,1,1,1,40,73,70,103,85,
90,103,85,95,120,100,178,110,120,143,115,138,110,181,125,113,105,100,95,111,
85,90,78,78,72,70,75,65,62,68,68,60,58,55,62,68,50,45,42,38,
40,35,38,32,28,32,30,26,30,28,24,26,28,24,22,26,24,22,26,22,
20,22,19,21,18,20,18,17,19,16,18,15,17,18,15,17,14,18,15,13,
14,12,15,11,13,12,14,11,12,13,10,12,11,13,10,12,11,10,12,10,
11,9,10,12,9,10,11,9,10,9];
const a05_vrf_dn = [
1,1,1,1,1,1,1,1,1,1,1,1,1,1,1,45,77,65,60,70,
85,112,80,90,100,110,142,105,120,177,110,147,105,127,115,100,90,95,122,100,
90,97,85,70,75,65,68,60,62,58,72,55,52,50,55,57,48,42,45,42,
38,36,32,35,30,27,28,25,26,24,22,24,26,22,20,24,22,21,25,20,
18,20,17,19,16,18,17,15,18,14,16,13,15,17,14,15,13,16,14,12,
13,11,14,12,10,13,11,12,10,12,11,9,12,10,11,9,12,10,11,9,
10,9,11,9,8,10,9,8,10,9];
const a05_vrf_mid = [
1,1,1,1,1,1,1,1,1,1,1,1,1,1,1,30,52,46,62,55,
62,70,58,66,80,72,105,76,82,95,78,92,76,100,85,75,72,70,66,75,
60,62,55,54,50,48,52,45,44,46,48,42,40,38,42,46,34,30,30,27,
27,24,26,22,20,22,20,18,20,19,16,18,19,16,15,18,16,15,18,15,
13,15,13,14,12,14,12,11,13,11,12,10,11,12,10,11,9,12,10,9,
9,8,10,8,9,8,9,7,8,9,7,8,7,9,7,8,7,7,8,7,
7,6,7,8,6,7,7,6,7,6];
const a05_ara0_up = [
1,1,1,1,1,1,1,1,1,1,1,1,1,1,1,1,1,1,1,1,
1,1,1,1,1,1,1,1,1,1,1,1,1,1,1,1,1,1,1,1,
1,1,1,1,1,1,1,1,1,1,1,1,1,15,30,45,60,84,65,60,
55,58,82,60,65,75,55,50,58,52,54,50,60,48,55,50,58,48,52,62,
64,50,55,52,60,50,58,60,69,60,80,149,120,90,100,162,110,120,156,115,
100,110,179,90,94,80,85,72,69,65,62,60,58,65,55,60,58,62,55,60,
58,55,62,64,60,50,55,58,50,45];
const a05_ara0_dn = [
1,1,1,1,1,1,1,1,1,1,1,1,1,1,1,1,1,1,1,1,
1,1,1,1,1,1,1,1,1,1,1,1,1,1,1,1,1,1,1,1,
1,1,1,1,1,1,1,1,1,1,1,1,1,15,30,50,70,96,70,60,
58,62,81,60,65,55,52,55,50,48,55,52,50,56,52,48,55,50,52,60,
74,52,50,55,48,52,50,55,60,70,120,176,100,85,110,156,120,100,151,105,
90,120,178,85,106,85,75,70,71,60,58,62,55,60,58,55,62,50,56,52,
58,55,60,86,62,55,52,50,55,48];
const a05_ara0_mid = [
1,1,1,1,1,1,1,1,1,1,1,1,1,1,1,1,1,1,1,1,
1,1,1,1,1,1,1,1,1,1,1,1,1,1,1,1,1,1,1,1,
1,1,1,1,1,1,1,1,1,1,1,1,1,10,22,32,44,55,46,42,
38,42,52,42,46,46,38,36,40,36,38,34,40,34,38,34,40,34,36,42,
44,35,38,36,42,35,40,42,46,44,60,90,78,62,70,95,75,80,95,78,
68,75,100,62,65,56,58,50,48,45,44,42,40,44,38,42,40,42,38,42,
40,38,42,46,42,35,38,40,35,32];
const a05_lanu_up = [
4,3,5,4,3,4,5,3,4,3,5,4,3,4,3,5,4,3,4,5,
3,4,5,3,4,3,4,5,3,4,3,5,4,3,4,5,3,4,3,4,
5,3,4,3,4,5,3,4,3,5,4,3,4,3,5,4,3,4,3,4,
15,45,70,85,100,113,100,120,125,170,140,143,125,133,120,110,148,105,95,88,
75,70,68,72,65,70,68,75,65,98,70,60,75,65,70,60,75,70,130,80,
70,75,65,70,128,80,70,65,120,75,70,65,85,113,95,75,70,80,65,70,
60,70,65,75,70,60,78,70,55,45];
const a05_lanu_dn = [
3,4,4,3,5,4,3,4,5,3,4,4,5,3,4,3,5,4,3,4,
4,3,5,4,3,4,5,3,4,5,3,4,3,5,4,3,4,3,5,4,
3,4,5,3,4,3,4,5,3,4,3,5,4,3,4,5,3,4,3,5,
15,50,75,90,110,152,110,125,120,127,140,187,130,130,120,147,130,110,100,80,
72,70,75,68,72,65,70,75,68,70,75,65,60,70,117,70,75,65,122,80,
75,70,65,72,127,80,75,70,115,80,70,72,75,127,85,75,144,80,70,65,
70,65,72,60,75,68,70,62,55,62];
const a05_lanu_mid = [
2,3,2,3,2,3,3,2,3,2,3,3,2,3,2,3,3,2,3,3,
2,3,3,2,3,2,3,3,2,3,2,3,3,2,3,3,2,3,2,3,
3,2,3,2,3,3,2,3,2,3,3,2,3,2,3,3,2,3,2,3,
10,32,50,60,68,78,72,85,88,100,95,95,88,90,82,78,92,74,68,60,
52,50,48,50,46,48,48,52,46,60,50,42,50,46,50,42,52,48,80,56,
50,52,46,50,80,56,50,46,76,52,48,46,58,75,62,52,50,56,46,48,
42,48,46,50,48,42,52,48,38,32];

// half height of the solid black part of each trace, at the seconds where it changes
const a00_hamf_core_t = [0, 15.5, 16, 17, 20, 22, 25, 30, 136];
const a00_hamf_core = [0.5, 0.5, 14, 30, 24, 6, 2, 1, 1];
const a00_kev_core_t = [0, 40, 41, 43, 46, 50, 60, 62, 65, 68, 75, 90, 110, 136];
const a00_kev_core = [2, 2, 10, 20, 14, 7, 7, 20, 24, 12, 8, 6, 5, 4];
const a00_kif_core_t = [0, 48, 50, 52, 55, 72, 74, 80, 84, 90, 100, 136];
const a00_kif_core = [6, 6, 28, 28, 12, 12, 20, 28, 14, 14, 10, 9];
const a00_lanu_core_t = [0, 59, 60, 63, 70, 90, 96, 100, 105, 115, 136];
const a00_lanu_core = [8, 8, 14, 28, 18, 16, 28, 42, 28, 20, 15];
const a01_hamf_core_t = [0, 14, 15, 22, 26, 35, 50, 80, 113];
const a01_hamf_core = [6, 6, 12, 18, 24, 18, 12, 9, 7];
const a01_ara0_core_t = [0, 32, 33, 40, 54, 58, 65, 75, 95, 105, 110, 113];
const a01_ara0_core = [3, 3, 12, 11, 12, 30, 20, 13, 8, 8, 12, 11];
const a01_hef_core_t = [0, 43, 44, 46, 50, 72, 74, 78, 90, 100, 113];
const a01_hef_core = [2, 2, 8, 8, 6, 6, 18, 14, 8, 5, 6];
const a02_ara0_core_t = [0, 15.5, 16, 20, 28, 32, 38, 45, 58, 65, 85, 138];
const a02_ara0_core = [3, 3, 15, 15, 28, 32, 28, 20, 14, 9, 6, 4];
const a02_kif_core_t = [0, 22.5, 23, 30, 46, 50, 60, 75, 100, 138];
const a02_kif_core = [4, 4, 28, 30, 36, 32, 24, 15, 11, 8];
const a02_hef_core_t = [0, 27.5, 28, 32, 45, 48, 50, 55, 60, 75, 138];
const a02_hef_core = [3, 3, 18, 12, 10, 15, 40, 30, 15, 9, 5];
const a02_lanu_core_t = [0, 34.5, 35, 38, 42, 58, 60, 64, 70, 90, 138];
const a02_lanu_core = [3, 3, 18, 15, 7, 7, 15, 22, 11, 5, 4];
const a03_kev_core_t = [0, 15.5, 16, 20, 27, 33, 45, 55, 70, 100, 139];
const a03_kev_core = [2, 2, 12, 12, 18, 24, 12, 8, 5, 2, 2];
const a03_ara0_core_t = [0, 25, 26, 29, 36, 42, 48, 55, 65, 80, 139];
const a03_ara0_core = [2, 2, 18, 11, 7, 9, 36, 24, 11, 5, 4];
const a03_kif_core_t = [0, 49.5, 50, 60, 85, 100, 120, 135, 139];
const a03_kif_core = [9, 9, 18, 21, 24, 28, 18, 15, 18];
const a04_kev_core_t = [0, 15, 15.5, 28, 31, 36, 50, 80, 127];
const a04_kev_core = [0.5, 0.5, 8, 7, 21, 13, 8, 5, 2];
const a04_ara0_core_t = [0, 24.5, 25, 45, 48, 52, 60, 85, 127];
const a04_ara0_core = [0.5, 0.5, 8, 7, 30, 18, 12, 6, 4];
const a04_ktk1_core_t = [0, 38, 40, 45, 70, 78, 90, 105, 127];
const a04_ktk1_core = [0.5, 0.5, 15, 13, 13, 30, 21, 15, 8];
const a05_vrf_core_t = [0, 15, 15.5, 25, 35, 50, 60, 80, 129];
const a05_vrf_core = [0.5, 0.5, 28, 36, 30, 18, 9, 5, 2];
const a05_ara0_core_t = [0, 52.5, 56, 85, 92, 100, 108, 129];
const a05_ara0_core = [0.5, 0.5, 18, 18, 27, 30, 21, 18];
const a05_lanu_core_t = [0, 60, 61, 66, 75, 80, 129];
const a05_lanu_core = [1, 1, 18, 36, 36, 24, 22];

// x axis: seconds from the window start and what each tick says
const a00_ticks = [17, 47, 77, 107];
const a00_labels = ["18:32:30", "18:33:00", "18:33:30", "18:34:00"];
const a01_ticks = [19, 49, 79, 109];
const a01_labels = ["16:22:00", "16:22:30", "16:23:00", "16:23:30"];
const a02_ticks = [17, 47, 77, 107, 137];
// trailing spaces pull the last label left, it sits off its tick in the original
const a02_labels = ["15:34:00", "15:34:30", "15:35:00", "15:35:30", "15:36:00    "];
const a03_ticks = [13, 43, 73, 103, 133];
const a03_labels = ["14:50:00", "14:50:30", "14:51:00", "14:51:30", "14:52:00"];
const a04_ticks = [18, 48, 78, 108];
const a04_labels = ["20:14:00", "20:14:30", "20:15:00", "20:15:30"];
const a05_ticks = [28, 58, 88, 118];
const a05_labels = ["11:32:00", "11:32:30", "11:33:00", "11:33:30"];

// page layout, in pixels of the 4350x3655 picture
const panels = [
  { title: "A00", titleX: 684, titleY: 80, sub: "2015-06-21 T18:32:13-18:34:29", subX: 749, subY: 220,
    left: 144, right: 1378, seconds: 136, ticks: a00_ticks, labels: a00_labels, labelOffset: 12,
    traces: [
      { name: "HAMF", up: a00_hamf_up, dn: a00_hamf_dn, mid: a00_hamf_mid, coreT: a00_hamf_core_t, core: a00_hamf_core, top: 290, bottom: 723, base: 521, nameX: 167, nameY: 346 },
      { name: "KEV", up: a00_kev_up, dn: a00_kev_dn, mid: a00_kev_mid, coreT: a00_kev_core_t, core: a00_kev_core, top: 723, bottom: 1155, base: 974, nameX: 190, nameY: 767 },
      { name: "KIF", up: a00_kif_up, dn: a00_kif_dn, mid: a00_kif_mid, coreT: a00_kif_core_t, core: a00_kif_core, top: 1155, bottom: 1586, base: 1353, nameX: 191, nameY: 1194 },
      { name: "LANU", up: a00_lanu_up, dn: a00_lanu_dn, mid: a00_lanu_mid, coreT: a00_lanu_core_t, core: a00_lanu_core, top: 1586, bottom: 2018, base: 1793, nameX: 167, nameY: 1631 }
    ] },
  { title: "A01", titleX: 2108, titleY: 80, sub: "2013-09-09 T16:21:41-16:23:34", subX: 2177, subY: 228,
    left: 1572, right: 2807, seconds: 113, ticks: a01_ticks, labels: a01_labels, labelOffset: 5,
    traces: [
      { name: "HAMF", up: a01_hamf_up, dn: a01_hamf_dn, mid: a01_hamf_mid, coreT: a01_hamf_core_t, core: a01_hamf_core, top: 294, bottom: 687, base: 511, nameX: 1603, nameY: 341 },
      { name: "ARA0", up: a01_ara0_up, dn: a01_ara0_dn, mid: a01_ara0_mid, coreT: a01_ara0_core_t, core: a01_ara0_core, top: 687, bottom: 1080, base: 894, nameX: 1600, nameY: 737 },
      { name: "HEF", up: a01_hef_up, dn: a01_hef_dn, mid: a01_hef_mid, coreT: a01_hef_core_t, core: a01_hef_core, top: 1080, bottom: 1471, base: 1294, nameX: 1610, nameY: 1125 }
    ] },
  { title: "A02", titleX: 3611, titleY: 80, sub: "2009-03-31 T15:33:43-15:36:01", subX: 3665, subY: 220,
    left: 3026, right: 4271, seconds: 138, ticks: a02_ticks, labels: a02_labels, labelOffset: 6,
    traces: [
      { name: "ARA0", up: a02_ara0_up, dn: a02_ara0_dn, mid: a02_ara0_mid, coreT: a02_ara0_core_t, core: a02_ara0_core, top: 293, bottom: 721, base: 500, nameX: 3056, nameY: 333 },
      { name: "KIF", up: a02_kif_up, dn: a02_kif_dn, mid: a02_kif_mid, coreT: a02_kif_core_t, core: a02_kif_core, top: 721, bottom: 1149, base: 950, nameX: 3074, nameY: 764 },
      { name: "HEF", up: a02_hef_up, dn: a02_hef_dn, mid: a02_hef_mid, coreT: a02_hef_core_t, core: a02_hef_core, top: 1149, bottom: 1575, base: 1376, nameX: 3063, nameY: 1189 },
      { name: "LANU", up: a02_lanu_up, dn: a02_lanu_dn, mid: a02_lanu_mid, coreT: a02_lanu_core_t, core: a02_lanu_core, top: 1575, bottom: 2002, base: 1792, nameX: 3047, nameY: 1626 }
    ] },
  { title: "A03", titleX: 710, titleY: 2165, sub: "2008-11-06 T14:49:47-14:52:06", subX: 738, subY: 2303,
    left: 150, right: 1385, seconds: 139, ticks: a03_ticks, labels: a03_labels, labelOffset: 6,
    traces: [
      { name: "KEV", up: a03_kev_up, dn: a03_kev_dn, mid: a03_kev_mid, coreT: a03_kev_core_t, core: a03_kev_core, top: 2362, bottom: 2755, base: 2577, nameX: 197, nameY: 2408 },
      { name: "ARA0", up: a03_ara0_up, dn: a03_ara0_dn, mid: a03_ara0_mid, coreT: a03_ara0_core_t, core: a03_ara0_core, top: 2755, bottom: 3148, base: 2964, nameX: 178, nameY: 2808 },
      { name: "KIF", up: a03_kif_up, dn: a03_kif_dn, mid: a03_kif_mid, coreT: a03_kif_core_t, core: a03_kif_core, top: 3148, bottom: 3541, base: 3335, nameX: 191, nameY: 3196 }
    ] },
  { title: "A04", titleX: 2170, titleY: 2165, sub: "2008-10-14 T20:13:42-20:15:49", subX: 2205, subY: 2309,
    left: 1596, right: 2831, seconds: 127, ticks: a04_ticks, labels: a04_labels, labelOffset: 4,
    traces: [
      { name: "KEV", up: a04_kev_up, dn: a04_kev_dn, mid: a04_kev_mid, coreT: a04_kev_core_t, core: a04_kev_core, top: 2364, bottom: 2757, base: 2533, nameX: 1639, nameY: 2412 },
      { name: "ARA0", up: a04_ara0_up, dn: a04_ara0_dn, mid: a04_ara0_mid, coreT: a04_ara0_core_t, core: a04_ara0_core, top: 2757, bottom: 3150, base: 2933, nameX: 1627, nameY: 2807 },
      { name: "KTK1", up: a04_ktk1_up, dn: a04_ktk1_dn, mid: a04_ktk1_mid, coreT: a04_ktk1_core_t, core: a04_ktk1_core, top: 3150, bottom: 3543, base: 3330, nameX: 1634, nameY: 3196 }
    ] },
  { title: "A05", titleX: 3607, titleY: 2165, sub: "2008-12-13 T11:31:32-11:33:41", subX: 3656, subY: 2303,
    left: 3043, right: 4288, seconds: 129, ticks: a05_ticks, labels: a05_labels, labelOffset: 15,
    traces: [
      { name: "VRF", up: a05_vrf_up, dn: a05_vrf_dn, mid: a05_vrf_mid, coreT: a05_vrf_core_t, core: a05_vrf_core, top: 2364, bottom: 2757, base: 2563, nameX: 3077, nameY: 2408 },
      { name: "ARA0", up: a05_ara0_up, dn: a05_ara0_dn, mid: a05_ara0_mid, coreT: a05_ara0_core_t, core: a05_ara0_core, top: 2757, bottom: 3150, base: 2954, nameX: 3066, nameY: 2804 },
      { name: "LANU", up: a05_lanu_up, dn: a05_lanu_dn, mid: a05_lanu_mid, coreT: a05_lanu_core_t, core: a05_lanu_core, top: 3150, bottom: 3543, base: 3338, nameX: 3067, nameY: 3191 }
    ] }
];

// frame rules: x, y, width, height
const rules = [
  [14, 20, 4336, 7], [14, 153, 4336, 7], [14, 2102, 4336, 7], [14, 2237, 4336, 7], [14, 3637, 4336, 7],
  [14, 20, 7, 3624], [1438, 20, 7, 3624], [2912, 20, 7, 3624], [4343, 20, 7, 3624]
];

const page = document.getElementById("page");

// the browser caps the window at 4096 wide, so fit the 4350 layout to what is there
const fitX = Math.min(1, window.innerWidth / 4350);
page.style.transform = "scale(" + fitX + ", 1)";

function addText(cls, text, x, y) {
  const el = document.createElement("div");
  el.className = "txt " + cls;
  el.textContent = text;
  el.style.left = x + "px";
  el.style.top = y + "px";
  page.appendChild(el);
}

rules.forEach(r => {
  const el = document.createElement("div");
  el.className = "rule";
  el.style.left = r[0] + "px";
  el.style.top = r[1] + "px";
  el.style.width = r[2] + "px";
  el.style.height = r[3] + "px";
  page.appendChild(el);
});

// Chart.js has no box around the plot area when the y axis is hidden
const plotBox = {
  id: "plotBox",
  afterDraw(chart) {
    const a = chart.chartArea;
    chart.ctx.save();
    chart.ctx.strokeStyle = "#333";
    chart.ctx.lineWidth = 2.5;
    chart.ctx.strokeRect(a.left, a.top, a.right - a.left, a.bottom - a.top);
    chart.ctx.restore();
  }
};

function zigzag(trace) {
  const pts = [];
  trace.up.forEach((v, i) => {
    pts.push({ x: i, y: v });
    pts.push({ x: i + 0.25, y: -trace.mid[i] });
    pts.push({ x: i + 0.5, y: trace.mid[i] });
    pts.push({ x: i + 0.75, y: -trace.dn[i] });
  });
  return pts;
}

function drawTrace(panel, trace, isLast) {
  const padL = 20, padR = 100, padT = 4;
  const axisH = isLast ? 70 : 12;
  const canvas = document.createElement("canvas");
  const w = panel.right - panel.left + padL + padR;
  const h = trace.bottom - trace.top + padT + axisH;
  canvas.width = w;
  canvas.height = h;
  canvas.style.left = (panel.left - padL) + "px";
  canvas.style.top = (trace.top - padT) + "px";
  canvas.style.width = w + "px";
  canvas.style.height = h + "px";
  page.appendChild(canvas);

  new Chart(canvas.getContext("2d"), {
    type: "line",
    data: {
      datasets: [
        {
          label: trace.name,
          data: zigzag(trace),
          borderColor: "#000",
          borderWidth: 2.2,
          pointRadius: 0,
          tension: 0,
          fill: false
        },
        {
          label: trace.name + " core up",
          data: trace.core.map((v, i) => ({ x: trace.coreT[i], y: v })),
          borderColor: "#000",
          borderWidth: 1,
          pointRadius: 0,
          tension: 0,
          backgroundColor: "#000",
          fill: "+1"
        },
        {
          label: trace.name + " core down",
          data: trace.core.map((v, i) => ({ x: trace.coreT[i], y: -v })),
          borderColor: "#000",
          borderWidth: 1,
          pointRadius: 0,
          tension: 0,
          fill: false
        }
      ]
    },
    options: {
      responsive: false,
      animation: false,
      devicePixelRatio: 1,
      layout: { padding: { left: padL, right: padR, top: padT, bottom: 0 } },
      plugins: { legend: { display: false }, tooltip: { enabled: false }, title: { display: false } },
      scales: {
        x: {
          type: "linear",
          min: 0,
          max: panel.seconds,
          border: { display: false },
          grid: { drawOnChartArea: false, drawTicks: true, tickLength: 8, tickWidth: 2, tickColor: "#333" },
          afterBuildTicks(scale) {
            scale.ticks = panel.ticks.map(v => ({ value: v }));
          },
          afterFit(scale) {
            scale.height = axisH;
            scale.paddingLeft = 0;
            scale.paddingRight = 0;
          },
          ticks: {
            display: isLast,
            autoSkip: false,
            maxRotation: 0,
            minRotation: 0,
            padding: 6,
            labelOffset: panel.labelOffset,
            color: "#000",
            font: { family: "'Open Sans', sans-serif", size: 43 },
            callback(value) {
              return panel.labels[panel.ticks.indexOf(value)];
            }
          }
        },
        y: {
          type: "linear",
          display: false,
          min: trace.base - trace.bottom,
          max: trace.base - trace.top
        }
      }
    },
    plugins: [plotBox]
  });
  addText("station", trace.name, trace.nameX, trace.nameY);
}

panels.forEach(panel => {
  addText("title", panel.title, panel.titleX, panel.titleY);
  addText("sub", panel.sub, panel.subX, panel.subY);
  panel.traces.forEach((trace, i) => drawTrace(panel, trace, i === panel.traces.length - 1));
});
</script>
</body>
</html>
